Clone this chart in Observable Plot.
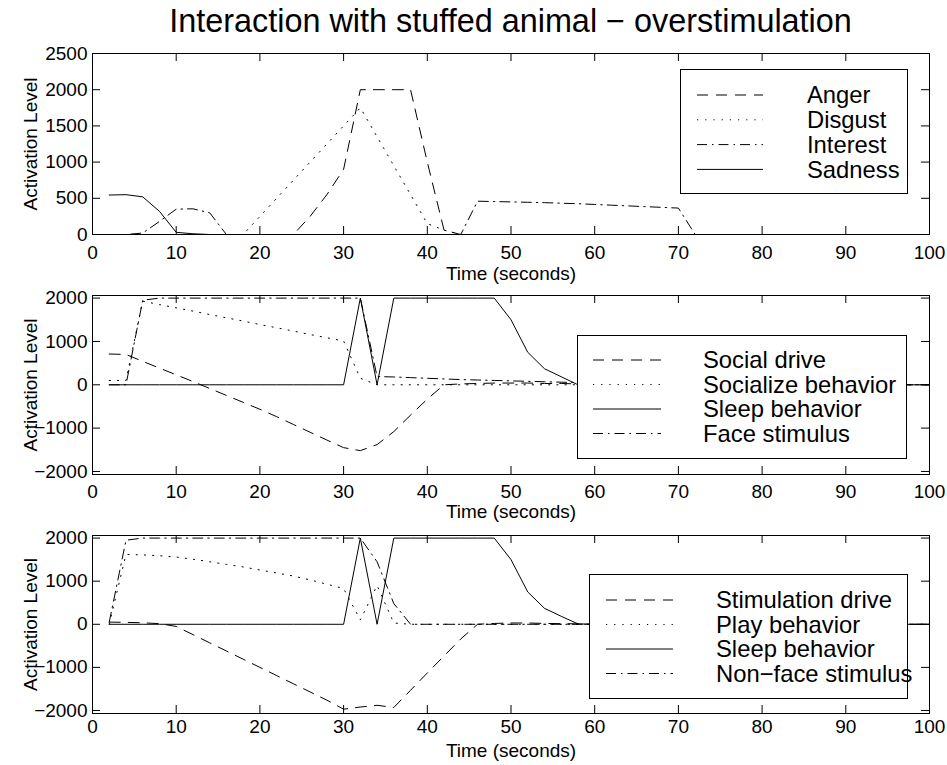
<!DOCTYPE html>
<html><head><meta charset="utf-8">
<script src="https://cdn.jsdelivr.net/npm/d3@7"></script>
<script src="https://cdn.jsdelivr.net/npm/@observablehq/plot@0.6"></script>
<style>
body{margin:0;background:#fff;}
#chart{position:relative;width:947px;height:765px;background:#fff;font-family:"Liberation Sans",Arial,Helvetica,sans-serif;overflow:hidden}
#chart svg{position:absolute;left:0;background:transparent;overflow:visible}
.title{position:absolute;left:92px;width:837px;top:5px;text-align:center;font-size:32.4px;line-height:32px;color:#000;white-space:nowrap}
</style></head><body>
<div id="chart"><div class="title">Interaction with stuffed animal − overstimulation</div></div>
<script>
// ---- data ----
const T = [2,4,6,8,10,12,14,16,18,20,22,24,26,28,30,32,34,36,38,40,42,44,46,48,50,52,54,56,58,60,62,64,66,68,70,72,100];
const xTicks = [0,10,20,30,40,50,60,70,80,90,100];
const yTicks1 = [0,500,1000,1500,2000,2500];
const yTicks2 = [-2000,-1000,0,1000,2000];

const anger    = [0,0,0,0,0,0,0,0,0,0,0,0,250,550,900,2000,2000,2000,2000,1000,60,0,0,0,0,0,0,0,0,0,0,0,0,0,0,0,0];
const disgust  = [0,0,0,0,0,0,0,0,0,250,500,750,1000,1250,1500,1750,1350,950,550,150,60,0,0,0,0,0,0,0,0,0,0,0,0,0,0,0,0];
const interest = [0,0,20,180,350,355,300,0,0,0,0,0,0,0,0,0,0,0,0,0,0,0,460,455,450,445,440,432,425,415,405,395,385,375,365,0,0];
const sadness  = [545,550,520,320,30,10,0,0,0,0,0,0,0,0,0,0,0,0,0,0,0,0,0,0,0,0,0,0,0,0,0,0,0,0,0,0,0];

const socialDrive = [710,700,540,385,230,75,-85,-245,-405,-565,-735,-915,-1095,-1275,-1450,-1520,-1380,-1080,-700,-330,0,20,30,40,40,40,30,30,20,0,0,0,0,0,0,0,0];
const socializeBeh = [100,100,1930,1850,1775,1700,1620,1545,1470,1390,1315,1240,1160,1085,1010,150,0,0,0,0,0,0,0,0,0,0,0,0,0,0,0,0,0,0,0,0,0];
const sleepBeh2 = [0,0,0,0,0,0,0,0,0,0,0,0,0,0,0,2000,0,2000,2000,2000,2000,2000,2000,2000,1500,750,370,185,0,0,0,0,0,0,0,0,0];
const faceStim = [0,0,1950,2000,2000,2000,2000,2000,2000,2000,2000,2000,2000,2000,2000,2000,190,180,165,150,135,120,110,100,90,80,70,60,50,0,0,0,0,0,0,0,0];

const stimDrive = [50,45,35,15,-50,-240,-430,-620,-810,-1000,-1190,-1380,-1570,-1760,-1970,-1920,-1880,-1930,-1530,-1130,-735,-340,0,20,30,30,20,15,10,0,0,0,0,0,0,0,0];
const playBeh = [0,1620,1610,1590,1560,1510,1450,1390,1330,1260,1190,1120,1030,930,830,100,900,30,0,0,0,0,0,0,0,0,0,0,0,0,0,0,0,0,0,0,0];
const sleepBeh3 = [0,0,0,0,0,0,0,0,0,0,0,0,0,0,0,2000,0,2000,2000,2000,2000,2000,2000,2000,1500,750,370,185,10,0,0,0,0,0,0,0,0];
const nonFaceStim = [50,1950,2000,2000,2000,2000,2000,2000,2000,2000,2000,2000,2000,2000,2000,2000,1450,480,0,0,0,0,0,0,0,0,0,0,0,0,0,0,0,0,0,0,0];

// ---- styles ----
const DASH = {dashed: "11,8", dotted: "1.2,7", dashdot: "10,5,1.5,5", solid: null};
const FONT = "Liberation Sans, Arial, Helvetica, sans-serif";
const chart = document.getElementById("chart");
const L = 92, R = 929, W = 947;

function fmt(d){ return d < 0 ? "\u2212" + Math.abs(d) : String(d); }

function panel({top, height, axTop, axBottom, yDomain, yTicks, series, xPad, labelDy}) {
  const H = axBottom - axTop, PW = R - L;
  const marks = [];
  for (const s of series) {
    marks.push(Plot.line(T.map((t, i) => ({t, v: s.values[i]})), {
      x: "t", y: "v", stroke: "#000", strokeWidth: 1, strokeDasharray: DASH[s.style] || undefined
    }));
  }
  marks.push(
    Plot.frame({stroke: "#000", strokeWidth: 1}),
    Plot.tickX(xTicks, {x: d => d, stroke: "#000", insetTop: H - 8}),
    Plot.tickX(xTicks, {x: d => d, stroke: "#000", insetBottom: H - 8}),
    Plot.tickY(yTicks, {y: d => d, stroke: "#000", insetRight: PW - 8}),
    Plot.tickY(yTicks, {y: d => d, stroke: "#000", insetLeft: PW - 8}),
    Plot.axisX({ticks: xTicks, tickSize: 0, tickPadding: xPad, label: null, fontSize: 19, tickFormat: d => String(d)}),
    Plot.axisY({ticks: yTicks, tickSize: 0, tickPadding: 5, label: null, fontSize: 19, tickFormat: fmt}),
    Plot.text(["Time (seconds)"], {frameAnchor: "bottom", textAnchor: "middle", lineAnchor: "middle", dy: labelDy, fontSize: 19, fill: "#000"}),
    Plot.text(["Activation Level"], {frameAnchor: "left", textAnchor: "middle", lineAnchor: "middle", rotate: -90, dx: -61.5, fontSize: 19, fill: "#000"})
  );
  const svg = Plot.plot({
    width: W, height,
    marginTop: axTop - top, marginBottom: top + height - axBottom,
    marginLeft: L, marginRight: W - R,
    x: {domain: [0, 100]},
    y: {domain: yDomain},
    style: {fontFamily: FONT, fontSize: "19px", background: "transparent", color: "#000", overflow: "visible"},
    marks
  });
  svg.style.position = "absolute";
  svg.style.top = top + "px";
  svg.style.left = "0px";
  chart.appendChild(svg);
}

panel({top: 40, height: 245, axTop: 53, axBottom: 234, yDomain: [0, 2500], yTicks: yTicks1, xPad: 11, labelDy: 39.5,
  series: [
    {values: anger, style: "dashed"},
    {values: disgust, style: "dotted"},
    {values: interest, style: "dashdot"},
    {values: sadness, style: "solid"}
  ]});
panel({top: 285, height: 240, axTop: 295, axBottom: 474, yDomain: [-2070, 2060], yTicks: yTicks2, xPad: 9.5, labelDy: 37,
  series: [
    {values: socialDrive, style: "dashed"},
    {values: socializeBeh, style: "dotted"},
    {values: sleepBeh2, style: "solid"},
    {values: faceStim, style: "dashdot"}
  ]});
panel({top: 525, height: 240, axTop: 535, axBottom: 713, yDomain: [-2070, 2060], yTicks: yTicks2, xPad: 6, labelDy: 37,
  series: [
    {values: stimDrive, style: "dashed"},
    {values: playBeh, style: "dotted"},
    {values: sleepBeh3, style: "solid"},
    {values: nonFaceStim, style: "dashdot"}
  ]});

// ---- legends ----
const legends = [
  {x: 680, y: 69, w: 227, h: 124, lx1: 697, lx2: 763, tx: 807, y0: 95, step: 24.8,
   items: [["Anger","dashed"],["Disgust","dotted"],["Interest","dashdot"],["Sadness","solid"]]},
  {x: 577, y: 335, w: 329, h: 123, lx1: 593, lx2: 661, tx: 703, y0: 360, step: 24.5,
   items: [["Social drive","dashed"],["Socialize behavior","dotted"],["Sleep behavior","solid"],["Face stimulus","dashdot"]]},
  {x: 589, y: 574, w: 318, h: 124, lx1: 606, lx2: 673, tx: 716, y0: 600, step: 24.5,
   items: [["Stimulation drive","dashed"],["Play behavior","dotted"],["Sleep behavior","solid"],["Non\u2212face stimulus","dashdot"]]}
];
const ov = d3.create("svg").attr("width", W).attr("height", 765)
  .style("position", "absolute").style("top", "0px").style("left", "0px")
  .style("font-family", FONT);
for (const lg of legends) {
  ov.append("rect").attr("x", lg.x + 0.5).attr("y", lg.y + 0.5).attr("width", lg.w).attr("height", lg.h)
    .attr("fill", "#fff").attr("stroke", "#000").attr("stroke-width", 1);
  lg.items.forEach(([name, style], i) => {
    const y = lg.y0 + i * lg.step;
    ov.append("line").attr("x1", lg.lx1).attr("x2", lg.lx2).attr("y1", y).attr("y2", y)
      .attr("stroke", "#000").attr("stroke-width", 1).attr("stroke-dasharray", DASH[style]);
    ov.append("text").attr("x", lg.tx).attr("y", y + 8.4).attr("font-size", 23.8).attr("fill", "#000").text(name);
  });
}
chart.appendChild(ov.node());
</script></body></html>
